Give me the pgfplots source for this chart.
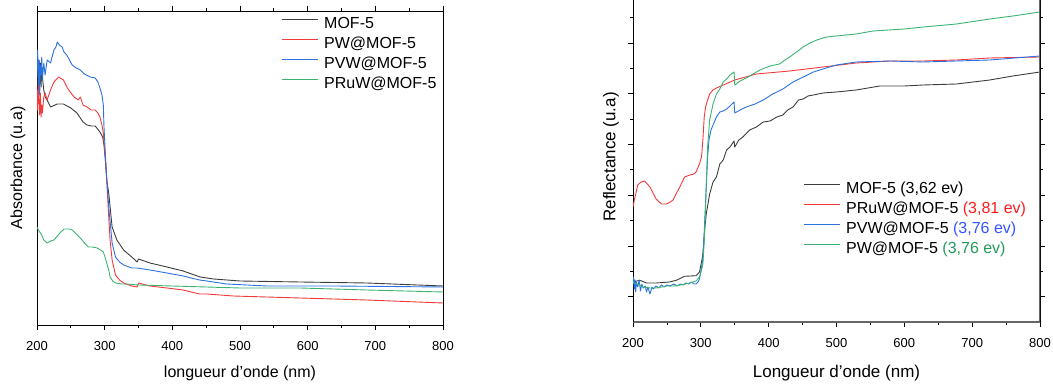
\documentclass[border=0pt]{standalone}
\usepackage{fontspec}
\setmainfont{Liberation Sans}
\usepackage{pgfplots}
\pgfplotsset{compat=1.18}
\definecolor{cblk}{HTML}{3D3D3D}
\definecolor{cred}{HTML}{F23A3A}
\definecolor{cblu}{HTML}{2A72E0}
\definecolor{cgrn}{HTML}{3CB371}
\definecolor{tblu}{HTML}{3355FF}
\definecolor{tgrn}{HTML}{239B5A}
\definecolor{tred}{HTML}{FF1A1A}
\pgfplotsset{
 common/.style={
  scale only axis, xmin=200, xmax=800, xtick={200,300,...,800}, minor x tick num=1,
  tick align=outside, major tick length=5pt, minor tick length=3pt,
  tick style={black, line width=0.8pt},
  /pgf/number format/assume math mode=true,
  /pgf/number format/1000 sep={},
  ticklabel style={font=\fontsize{13}{15}\selectfont},
  xticklabel style={yshift=-8pt},
  legend image code/.code={\draw[#1, line width=1pt] (0pt,6pt) -- (36pt,6pt);},
  legend cell align=left,
  every axis plot/.append style={line width=0.9pt, line join=round},
  clip=true,
 }
}
\begin{document}
\begin{tikzpicture}[x=1pt,y=1pt]
\path[use as bounding box] (0,0) rectangle (1053,387);
% ---------------- left: absorbance ----------------
\begin{axis}[common,
  at={(37pt,62pt)}, anchor=south west,
  width=406pt, height=314pt,
  ymin=0, ymax=314, ytick=\empty,
  axis line style={black, line width=0.8pt},
  xlabel={longueur d'onde (nm)},
  ylabel={Absorbance (u.a)},
  label style={font=\fontsize{16}{18}\selectfont},
  xlabel style={at={(axis description cs:0.5,-0.153)}, anchor=center},
  ylabel style={at={(axis description cs:-0.047,0.5)}, anchor=center, rotate=0},
  legend style={draw=none, fill=none, inner sep=0pt, at={(axis description cs:0.601,0.979)}, anchor=north west,
    font=\fontsize{16}{18}\selectfont, row sep=5pt, column sep=6pt,
    nodes={inner sep=0pt, text height=11pt, text depth=4pt}},
]
\addplot[cblk] coordinates {(200,250)(201,258)(202,230)(203,265)(204,240)(205,262)(206,238)(207,255)(208,248)(210,235)(212,228)(215,225)(220,218)(230,221)(239,221)(250,217)(259,212)(268,203)(274,200)(280,199)(286,199)(293,193)(297,188)(299,180)(301,165)(303,145)(306,132)(311,98)(318,85)(328,75)(340,68)(348,63)(350,66)(367,62)(392,58)(416,54)(441,48)(461,46)(500,44)(589,43)(687,42)(800,39)};
\addlegendentry{MOF-5}
\addplot[cred] coordinates {(200,235)(201,215)(202,245)(203,225)(204,210)(205,232)(206,208)(207,220)(208,212)(210,228)(212,232)(215,225)(220,235)(225,243)(232,248)(239,245)(245,237)(249,233)(255,228)(261,225)(264,228)(268,220)(274,218)(280,215)(286,215)(290,212)(293,208)(296,200)(298,192)(300,175)(302,158)(304,133)(306,108)(308,85)(311,65)(316,50)(322,45)(328,42)(340,39)(348,38)(350,42)(367,39)(392,37)(416,35)(440,31)(451,31)(490,29)(589,27)(687,25)(800,22)};
\addlegendentry{PW@MOF-5}
\addplot[cblu] coordinates {(200,255)(201,275)(202,240)(203,265)(204,230)(205,260)(206,250)(207,268)(208,245)(210,262)(212,250)(215,265)(220,262)(225,275)(228,278)(230,283)(233,280)(237,278)(240,273)(244,270)(248,265)(252,260)(258,257)(264,255)(270,251)(279,248)(286,247)(290,243)(293,237)(296,230)(298,220)(299,198)(302,158)(306,118)(311,82)(316,68)(322,63)(328,60)(340,57)(348,57)(367,55)(392,52)(416,49)(440,45)(451,44)(480,41)(540,39)(640,39)(800,38)};
\addlegendentry{PVW@MOF-5}
\addplot[cgrn] coordinates {(200,98)(202,95)(204,93)(207,90)(210,85)(215,82)(220,84)(225,85)(230,89)(234,92)(240,96)(244,96)(248,96)(252,95)(258,91)(264,87)(270,82)(276,78)(282,78)(289,77)(294,75)(298,73)(301,67)(303,62)(306,55)(308,48)(312,44)(316,42)(325,41)(333,41)(350,40)(400,39)(450,38)(500,37)(589,37)(687,35)(800,33)};
\addlegendentry{PRuW@MOF-5}
\end{axis}
% ---------------- right: reflectance ----------------
\begin{axis}[common,
  at={(633pt,65pt)}, anchor=south west,
  width=407pt, height=330pt,
  ymin=0, ymax=330,
  ytick={25.7,76,126.7,177.3,228.3,279}, yticklabels={},
  minor ytick={51,101.7,152.3,202.7,253.3,304.3},
  separate axis lines,
  x axis line style={draw=black!60, line width=1.2pt},
  y axis line style={black, line width=0.8pt},
  xlabel={Longueur d'onde (nm)},
  ylabel={Reflectance (u.a)},
  label style={font=\fontsize{17}{19}\selectfont},
  xlabel style={at={(axis description cs:0.5,-0.1545)}, anchor=center},
  ylabel style={at={(axis description cs:-0.054,0.5)}, anchor=center},
  legend style={draw=none, fill=none, inner sep=0pt, at={(axis description cs:0.4177,0.422)}, anchor=north west,
    font=\fontsize{16}{18}\selectfont, row sep=5pt, column sep=6pt,
    nodes={inner sep=0pt, text height=11pt, text depth=4pt}},
]
\addplot[cblk] coordinates {(200,40)(210,41.7)(220,39)(234,39)(254,40)(265,42)(269,43.3)(276,45.7)(293,46.3)(298,50)(301,60)(303,68)(306,95)(308,108)(313,128)(318,140)(323,145)(328,158)(333,162)(338,172)(343,175)(349,181)(350,175)(356,182)(362,185)(372,192)(382,195)(392,200)(402,201)(412,205)(421,207)(428,212)(436,215)(444,222)(451,223)(458,226)(466,227)(480,229)(500,230)(529,232)(564,236)(600,236)(628,237)(677,238)(726,242)(760,246)(800,250)};
\addlegendentry{MOF-5 (3,62 ev)}
\addplot[cred] coordinates {(200,115)(202,122)(207,137)(212,140)(217,141)(225,135)(234,123)(242,118)(249,118)(255,120)(259,122)(265,130)(269,135)(276,145)(284,147)(290,148)(293,150)(298,158)(301,165)(303,182)(305,205)(307,215)(310,222)(313,228)(318,232)(323,234)(333,237)(350,242)(382,248)(431,251)(480,255)(529,259)(579,261)(628,261)(677,262)(726,264)(800,265)};
\addlegendentry{PRuW@MOF-5 \textcolor{tred}{(3,81 ev)}}
\addplot[cblu] coordinates {(200,38)(201,45)(202,33)(203,42)(204,30)(205,40)(207,35)(209,42)(211,31)(213,38)(215,34)(218,36)(220,30)(222,35)(225,28)(228,35)(230,33)(234,36)(238,34)(242,37)(246,35)(250,37)(255,36)(260,38)(265,36)(270,38)(274,37)(278,39)(282,38)(286,40)(290,38)(293,38)(296,40)(298,43)(301,55)(303,62)(305,90)(307,120)(308,135)(310,165)(312,182)(315,192)(318,197)(323,205)(328,210)(333,211)(338,213)(343,216)(349,220)(350,209)(358,212)(367,215)(380,218)(392,222)(406,228)(421,233)(436,240)(451,245)(466,250)(480,253)(490,255)(500,257)(529,260)(579,261)(628,260)(677,261)(726,262)(800,266)};
\addlegendentry{PVW@MOF-5 \textcolor{tblu}{(3,76 ev)}}
\addplot[cgrn] coordinates {(200,40)(205,38)(210,37)(215,35)(225,34)(234,34)(250,36)(260,36)(270,37)(284,39)(293,41)(298,45)(301,52)(303,58)(305,80)(307,115)(308,138)(310,175)(313,202)(318,218)(323,228)(328,233)(333,240)(338,243)(343,247)(349,250)(350,237)(358,241)(367,244)(377,248)(387,252)(402,256)(416,258)(424,262)(431,265)(441,270)(451,275)(461,279)(471,282)(485,285)(500,286)(529,288)(554,291)(600,293)(628,295)(677,298)(726,303)(760,306)(800,310)};
\addlegendentry{PW@MOF-5 \textcolor{tgrn}{(3,76 ev)}}
\draw[black!60, line width=1.2pt] (rel axis cs:1,0) -- (rel axis cs:1,1);
\end{axis}
\end{tikzpicture}
\end{document}
